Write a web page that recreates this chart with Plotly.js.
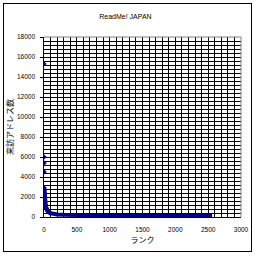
<!DOCTYPE html>
<html>
<head>
<meta charset="utf-8">
<script src="https://cdn.plot.ly/plotly-3.0.1.min.js"></script>
<style>
html,body{margin:0;padding:0;background:#fff;}
#wrap{position:relative;width:256px;height:256px;}
#chart{position:absolute;left:0;top:0;width:256px;height:256px;}
#frame{position:absolute;left:3px;top:3px;width:247px;height:247px;border:1px solid #000;pointer-events:none;}
</style>
</head>
<body>
<div id="wrap"><div id="chart"></div><div id="frame"></div></div>
<script>
const chartTitle = "ReadMe! JAPAN";
const xTitle = "ランク";
const yTitle = "来訪アドレス数";
// top-ranked sites (individual markers)
const headRanks  = [1, 2, 3, 4, 5, 6, 7, 8, 9, 10, 11, 12, 13, 14, 15, 16, 18, 20, 22, 24, 26, 28, 30, 33, 36, 40, 45, 50, 55, 60, 70, 80, 90, 100];
const headCounts = [15300, 6000, 5400, 4500, 2900, 2700, 2600, 2450, 2300, 2200, 2100, 2000, 1900, 1800, 1700, 1600, 1500, 1400, 1300, 1200, 1100, 1000, 950, 900, 850, 800, 700, 650, 600, 550, 500, 450, 400, 370];
// long tail (densely packed markers, drawn as a thick band)
const tailRanks  = [100, 150, 200, 300, 450, 500, 1000, 1500, 2000, 2560];
const tailCounts = [370, 300, 250, 220, 200, 150, 130, 110, 100, 90];
const xTickVals = [0, 500, 1000, 1500, 2000, 2500, 3000];
const yTickVals = [0, 2000, 4000, 6000, 8000, 10000, 12000, 14000, 16000, 18000];

const tickFont = {family: "Liberation Sans Narrow, Arial Narrow, Liberation Sans, sans-serif", size: 6.5, color: "#000"};
const jpFont = {family: "Noto Sans CJK JP, sans-serif", size: 8, color: "#000"};

const head = {
  x: headRanks, y: headCounts, type: "scatter", mode: "markers",
  marker: {color: "#000080", symbol: "diamond", size: 4},
  hoverinfo: "skip"
};
const tail = {
  x: tailRanks, y: tailCounts, type: "scatter", mode: "lines",
  line: {color: "#000080", width: 4},
  hoverinfo: "skip"
};

const layout = {
  width: 256, height: 256,
  margin: {l: 44, r: 15, t: 37, b: 39},
  paper_bgcolor: "#fff", plot_bgcolor: "#fff",
  showlegend: false,
  font: tickFont,
  title: {text: chartTitle, font: {family: "Liberation Sans Narrow, Arial Narrow, Liberation Sans, sans-serif", size: 7, color: "#000"}, x: 0.49, xanchor: "center", y: 0.935, yanchor: "middle"},
  xaxis: {
    range: [0, 3000], tickvals: xTickVals, ticktext: xTickVals.map(String),
    showgrid: true, gridcolor: "#000", gridwidth: 1,
    minor: {dtick: 100, showgrid: true, gridcolor: "#000", gridwidth: 1},
    showline: true, linecolor: "#000", linewidth: 1,
    ticks: "outside", ticklen: 6, tickcolor: "#fff",
    zeroline: false, tickfont: tickFont,
    title: {text: xTitle, font: jpFont, standoff: 5}
  },
  yaxis: {
    range: [0, 18000], tickvals: yTickVals, ticktext: yTickVals.map(v => String(v) + "\u00a0\u00a0"),
    showgrid: true, gridcolor: "#000", gridwidth: 1,
    minor: {dtick: 400, showgrid: true, gridcolor: "#000", gridwidth: 1},
    showline: true, linecolor: "#000", linewidth: 1,
    ticks: "outside", ticklen: 3, tickcolor: "#000",
    zeroline: false, tickfont: tickFont,
    title: {text: yTitle, font: jpFont, standoff: 2}
  },
  shapes: [
    {type: "line", xref: "paper", yref: "paper", x0: 0, x1: 1, y0: 1, y1: 1, line: {color: "#808080", width: 1}},
    {type: "line", xref: "paper", yref: "paper", x0: 1, x1: 1, y0: 0, y1: 1, line: {color: "#808080", width: 1}}
  ]
};

Plotly.newPlot("chart", [tail, head], layout, {staticPlot: true, displayModeBar: false});
</script>
</body>
</html>
